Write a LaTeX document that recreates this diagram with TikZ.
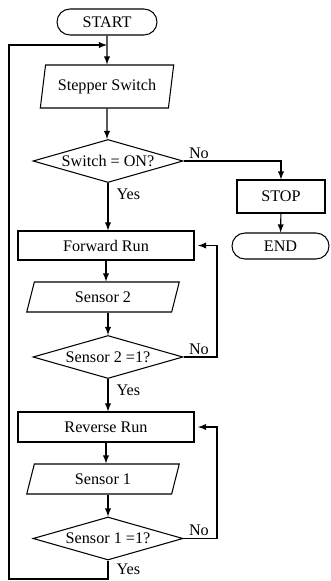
\documentclass[tikz,border=0pt]{standalone}
\usepackage{fontspec}
\setmainfont{Liberation Serif}
\usepackage{tikz}
\usetikzlibrary{shapes.geometric}

\tikzset{
  terminal/.style={draw, rounded corners=0.26cm, minimum height=0.52cm, inner sep=0pt},
  process/.style={draw, minimum height=0.6cm, inner sep=0pt},
  io/.style={draw, trapezium, trapezium left angle=74, trapezium right angle=106,
    trapezium stretches=true, minimum height=0.6cm, inner sep=0pt},
  decision/.style={draw, diamond, aspect=3.5, minimum width=3cm,
    minimum height=0.86cm, inner sep=0pt},
  flow/.style={->, >=latex},
  lbl/.style={inner sep=0pt}
}

\begin{document}
\begin{tikzpicture}[semithick, font=\fontsize{9.2}{11}\selectfont]
    \useasboundingbox (0, 0) rectangle (6.6, -11.62);

    % main column
    \node[terminal, minimum width=2cm](start) at (2.14, -0.44){START};
    \node[io, minimum width=2.68cm, minimum height=0.86cm](stepper) at (2.14, -1.73){Stepper Switch};
    \node[decision](switch) at (2.16, -3.22){Switch = ON?};
    \node[process, minimum width=3.52cm, minimum height=0.58cm](forward) at (2.12, -4.91){Forward Run};
    \node[io, minimum width=3.06cm](sensor2) at (2.06, -5.94){Sensor 2};
    \node[decision](check2) at (2.16, -7.14){Sensor 2 =1?};
    \node[process, minimum width=3.52cm](reverse) at (2.12, -8.54){Reverse Run};
    \node[io, minimum width=3.06cm](sensor1) at (2.06, -9.58){Sensor 1};
    \node[decision](check1) at (2.16, -10.77){Sensor 1 =1?};

    % stop branch
    \node[process, minimum width=1.76cm, minimum height=0.66cm](stop) at (5.62, -3.93){STOP};
    \node[terminal, minimum width=1.94cm](end) at (5.61, -4.92){END};

    % helper points
    \coordinate (join) at (2.14, -0.9);
    \coordinate (loop2) at (4.34, -4.91);
    \coordinate (loop1) at (4.34, -8.54);
    \coordinate (back) at (0.18, -11.58);

    % downward flow
    \draw [flow] (start) -- (stepper);
    \draw [flow] (stepper) -- (stepper |- switch.north);
    \draw [flow] (switch) -- (switch |- forward.north);
    \draw [flow] (forward) -- (forward |- sensor2.north);
    \draw [flow] (sensor2.south -| check2) -- (check2);
    \draw [flow] (check2) -- (check2 |- reverse.north);
    \draw [flow] (reverse) -- (reverse |- sensor1.north);
    \draw [flow] (sensor1.south -| check1) -- (check1);

    % stop branch
    \draw [flow] (switch.east) -| (stop.north);
    \draw [flow] (stop) -- (end);

    % sensor loops
    \draw [flow, shorten >=2pt] (check2.east) -| (loop2) -- (forward.east);
    \draw [flow, shorten >=2pt] (check1.east) -| (loop1) -- (reverse.east);

    % back to start
    \draw [flow] (check1.south) |- (back) |- (join);

    % labels
    \node[lbl, anchor=south west](no0) at ([xshift=0.1cm, yshift=0.04cm]switch.east){No};
    \node[lbl, anchor=north west](yes0) at ([xshift=0.16cm, yshift=-0.1cm]switch.south){Yes};
    \node[lbl, anchor=south west](no2) at ([xshift=0.1cm, yshift=0.04cm]check2.east){No};
    \node[lbl, anchor=north west](yes2) at ([xshift=0.16cm, yshift=-0.1cm]check2.south){Yes};
    \node[lbl, anchor=south west](no1) at ([xshift=0.1cm, yshift=0.04cm]check1.east){No};
    \node[lbl, anchor=north west](yes1) at ([xshift=0.16cm, yshift=-0.05cm]check1.south){Yes};
\end{tikzpicture}
\end{document}
